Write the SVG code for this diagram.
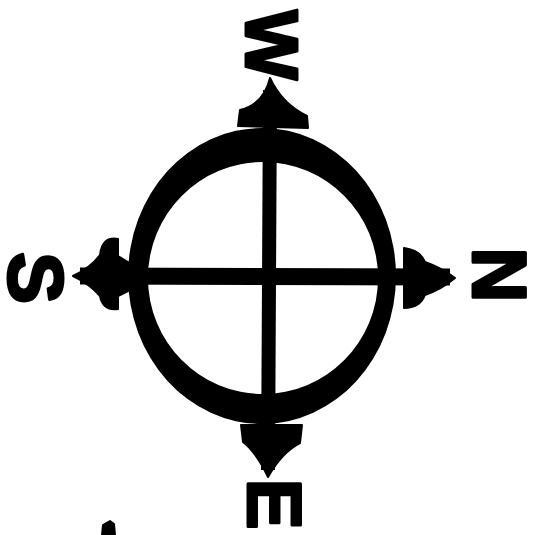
<svg xmlns="http://www.w3.org/2000/svg" width="536" height="535" viewBox="0 0 536 535">
<style>
.ink{fill:#000;stroke:#000;stroke-width:2;stroke-linejoin:round}
.line{stroke:#000;stroke-linecap:butt;fill:none}
.lbl{font-family:"Liberation Sans",Arial,sans-serif;font-weight:bold;fill:#000;stroke:#000;stroke-width:3;stroke-linejoin:round;text-anchor:middle}
</style>
<rect width="536" height="535" fill="#fff"/>
<g id="ring">
<path fill="#000" fill-rule="evenodd" d="M262,128 A134,148 0 1,1 262,424 A134,148 0 1,1 262,128 Z M263,162 A115,116 0 1,0 263,394 A115,116 0 1,0 263,162 Z"/>
</g>
<g id="connectors">
<path class="line" stroke-width="14" d="M270,90 L268,470"/>
<path class="line" stroke-width="17" d="M80,276 L450,277"/>
<path class="ink" d="M270,78 Q264,104 240,110 L238,126 L308,128 L307,116 Q282,104 270,78 Z"/>
<path class="ink" d="M241,425 L302,425 L300,443 Q282,452 268,477 Q256,452 243,442 Z"/>
<path class="ink" d="M128,262 L118,256 L118,239 Q102,236 100,255 Q90,268 73,276 Q90,284 100,296 Q103,311 118,309 L118,296 L128,291 Z"/>
<path class="ink" d="M404,248 Q420,250 425,262 Q442,268 455,278 Q442,289 425,295 Q420,308 404,308 Z"/>
</g>
<g id="label-top"><text class="lbl" font-size="74" transform="translate(272,45) rotate(90)" x="0" y="26">W</text></g>
<g id="label-right"><text class="lbl" font-size="76" transform="translate(500,275) rotate(90)" x="0" y="27">N</text></g>
<g id="label-bottom"><text class="lbl" font-size="76" transform="translate(275,504) rotate(90)" x="0" y="27">E</text></g>
<g id="label-left"><text class="lbl" font-size="78" transform="translate(37,278) rotate(90)" x="0" y="28">S</text></g>
<path class="ink" d="M102,535 L103,525 L110,521 L114,524 L115,535 Z"/>
</svg>
